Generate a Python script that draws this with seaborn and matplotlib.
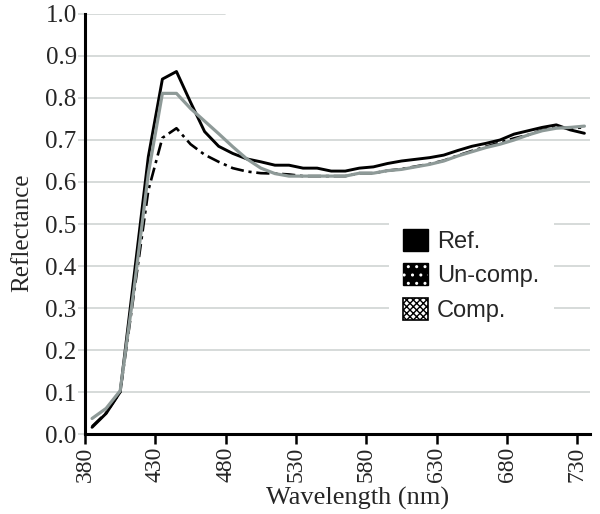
import numpy as np
import pandas as pd
import matplotlib
matplotlib.use('Agg')
import matplotlib.pyplot as plt
import seaborn as sns
from matplotlib.patches import Patch
from matplotlib.legend_handler import HandlerTuple

# data
wavelength = [385, 395, 405, 415, 425, 435, 445, 455, 465, 475, 485, 495,
              505, 515, 525, 535, 545, 555, 565, 575, 585, 595, 605, 615,
              625, 635, 645, 655, 665, 675, 685, 695, 705, 715, 725, 735]
ref = [0.016, 0.049, 0.100, 0.380, 0.660, 0.845, 0.863, 0.790, 0.720, 0.685,
       0.668, 0.655, 0.648, 0.640, 0.640, 0.633, 0.633, 0.626, 0.626, 0.633,
       0.636, 0.644, 0.650, 0.654, 0.658, 0.664, 0.675, 0.685, 0.692, 0.700,
       0.714, 0.722, 0.730, 0.736, 0.724, 0.716]
uncomp = [0.018, 0.050, 0.100, 0.340, 0.580, 0.705, 0.728, 0.690, 0.665, 0.648,
          0.633, 0.625, 0.621, 0.620, 0.618, 0.614, 0.614, 0.614, 0.614, 0.621,
          0.621, 0.627, 0.631, 0.637, 0.643, 0.651, 0.663, 0.674, 0.684, 0.694,
          0.704, 0.712, 0.724, 0.730, 0.728, 0.730]
comp = [0.037, 0.061, 0.103, 0.350, 0.620, 0.811, 0.811, 0.775, 0.745, 0.715,
        0.684, 0.655, 0.633, 0.620, 0.614, 0.614, 0.614, 0.614, 0.614, 0.621,
        0.621, 0.627, 0.630, 0.636, 0.642, 0.650, 0.662, 0.672, 0.682, 0.690,
        0.700, 0.712, 0.722, 0.728, 0.730, 0.733]
x_ticks = [380, 430, 480, 530, 580, 630, 680, 730]
y_ticks = [0.0, 0.1, 0.2, 0.3, 0.4, 0.5, 0.6, 0.7, 0.8, 0.9, 1.0]
labels = ['Ref.', 'Un-comp.', 'Comp.']

sns.set_theme(style='white')
plt.rcParams['font.family'] = ['Liberation Serif', 'DejaVu Serif']

df = pd.DataFrame({'wl': wavelength, 'ref': ref, 'uncomp': uncomp, 'comp': comp})

fig = plt.figure(figsize=(6, 5.14), dpi=100)
ax = fig.add_axes([0.1417, 0.1556, 0.8417, 0.8172])

grid_c = '#cfd4d3'
gray = '#8e9a98'

# gridlines (top one is only partly drawn in the original)
for t in y_ticks[1:]:
    if t < 1.0:
        ax.axhline(t, color=grid_c, lw=1.2, zorder=0)
    else:
        ax.axhline(t, xmax=0.277, color=grid_c, lw=1.2, zorder=0)

sns.lineplot(data=df, x='wl', y='ref', ax=ax, color='black', lw=2.1, zorder=3)
sns.lineplot(data=df, x='wl', y='uncomp', ax=ax, color='black', lw=1.9,
             linestyle=(0, (5, 1.8, 1.2, 1.8)), zorder=3)
sns.lineplot(data=df, x='wl', y='comp', ax=ax, color=gray, lw=2.3, zorder=4)

ax.set_xlim(380, 739)
ax.set_ylim(0, 1.0)
ax.set_xticks(x_ticks)
ax.set_yticks(y_ticks)
ax.set_yticklabels([f'{v:.1f}' for v in y_ticks], fontsize=18)
ax.set_xticklabels([str(v) for v in x_ticks], fontsize=17, rotation=90)
ax.tick_params(axis='y', left=True, length=5, width=1.2, color=grid_c, pad=1)
ax.tick_params(axis='x', bottom=True, length=7, width=1.8, color='black', pad=2)

for s in ['top', 'right']:
    ax.spines[s].set_visible(False)
for s in ['left', 'bottom']:
    ax.spines[s].set_color('black')
    ax.spines[s].set_linewidth(2.2)

ax.set_xlabel('Wavelength (nm)', fontsize=19)
ax.set_ylabel('Reflectance', fontsize=18)
ax.xaxis.set_label_coords(0.539, -0.125)
ax.yaxis.set_label_coords(-0.103, 0.479)

# legend with patterned swatches
h_ref = Patch(facecolor='black', edgecolor='black')
h_un = (Patch(facecolor='black', edgecolor='black'),
        Patch(facecolor='none', edgecolor='white', hatch='..', lw=0))
h_comp = (Patch(facecolor='white', edgecolor='black', lw=1.2),
          Patch(facecolor='none', edgecolor='black', hatch='xxxxx', lw=0))
leg = ax.legend([h_ref, h_un, h_comp], labels,
                handler_map={tuple: HandlerTuple(ndivide=1, pad=0)},
                loc='center left', bbox_to_anchor=(0.578, 0.378),
                prop={'family': 'Liberation Sans', 'size': 17},
                handlelength=1.05, handleheight=1.05, handletextpad=0.4,
                labelspacing=0.45, frameon=True, borderpad=0.6)
leg.get_frame().set_facecolor('white')
leg.get_frame().set_edgecolor('none')
leg.get_frame().set_alpha(1)
leg.set_zorder(5)

plt.savefig('out.png', dpi=100)
plt.close()
